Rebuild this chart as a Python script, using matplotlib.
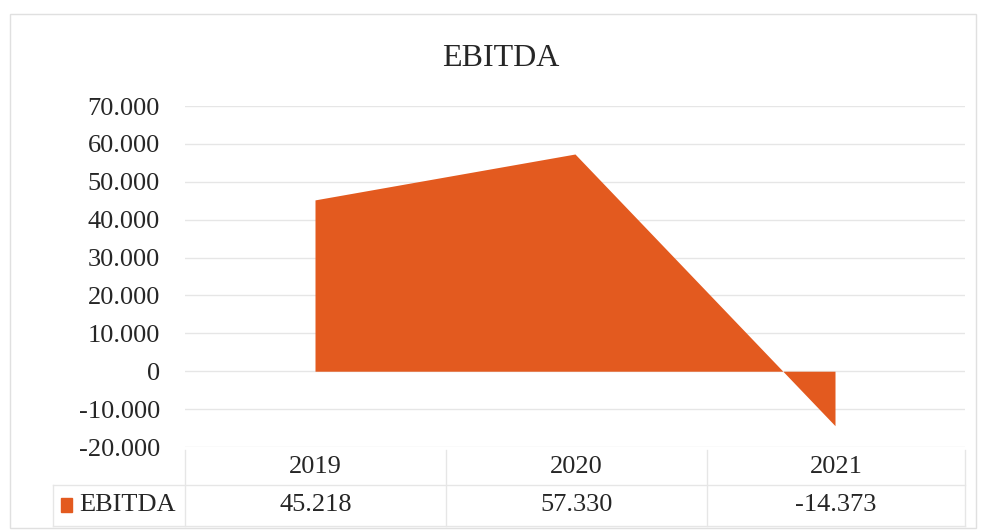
import matplotlib
matplotlib.use("Agg")
import matplotlib.pyplot as plt
from matplotlib.patches import Rectangle

# data
years = ["2019", "2020", "2021"]
ebitda = [45218, 57330, -14373]
yticks = [-20000, -10000, 0, 10000, 20000, 30000, 40000, 50000, 60000, 70000]

orange = "#E35A1F"
grid_c = "#E6E6E6"
txt_c = "#262626"


def fmt(v):
    return f"{v:,}".replace(",", ".")


plt.rcParams["font.family"] = ["Liberation Serif", "DejaVu Serif"]

fig = plt.figure(figsize=(9.84, 5.30), dpi=100)
ax = fig.add_axes([185 / 984, 1 - 447 / 530, 780 / 984, 341 / 530])

x = list(range(len(years)))
ax.fill_between(x, 0, ebitda, color=orange, linewidth=0)

ax.set_xlim(-0.5, len(years) - 0.5)
ax.set_ylim(-20000, 70000)
ax.set_yticks(yticks)
ax.set_yticklabels([fmt(t) for t in yticks], fontsize=19, color=txt_c)
ax.set_xticks([])
ax.tick_params(axis="y", length=0, pad=18)
ax.grid(axis="y", color=grid_c, linewidth=1)
ax.set_axisbelow(True)
for s in ax.spines.values():
    s.set_visible(False)

fig.text(501 / 984, 1 - 59 / 530, "EBITDA", ha="center", va="center",
         fontsize=23, color=txt_c)


# data table under the plot
def fy(py):
    return 1 - py / 530


def fx(px):
    return px / 984


col_edges = [185, 446, 707, 965]
row_top, row_mid, row_bot = 450, 485, 526
for cx in col_edges:
    fig.add_artist(plt.Line2D([fx(cx), fx(cx)], [fy(row_top), fy(row_bot)],
                              color=grid_c, linewidth=1))
fig.add_artist(plt.Line2D([fx(53), fx(53)], [fy(row_mid), fy(row_bot)],
                          color=grid_c, linewidth=1))
fig.add_artist(plt.Line2D([fx(53), fx(965)], [fy(row_mid), fy(row_mid)],
                          color=grid_c, linewidth=1))
fig.add_artist(plt.Line2D([fx(53), fx(965)], [fy(row_bot), fy(row_bot)],
                          color=grid_c, linewidth=1))

for i, (yr, v) in enumerate(zip(years, ebitda)):
    cx = (col_edges[i] + col_edges[i + 1]) / 2
    fig.text(fx(cx), fy(467), yr, ha="center", va="center", fontsize=19, color=txt_c)
    fig.text(fx(cx), fy(505), fmt(v), ha="center", va="center", fontsize=19, color=txt_c)

fig.add_artist(Rectangle((fx(61), fy(512)), fx(11), 14 / 530, color=orange))
fig.text(fx(79), fy(505), "EBITDA", ha="left", va="center", fontsize=19, color=txt_c)

# chart border
fig.add_artist(Rectangle((fx(10), fy(528)), fx(966), (528 - 14) / 530,
                         fill=False, edgecolor="#E0E0E0", linewidth=1))

fig.savefig("out.png", dpi=100)
